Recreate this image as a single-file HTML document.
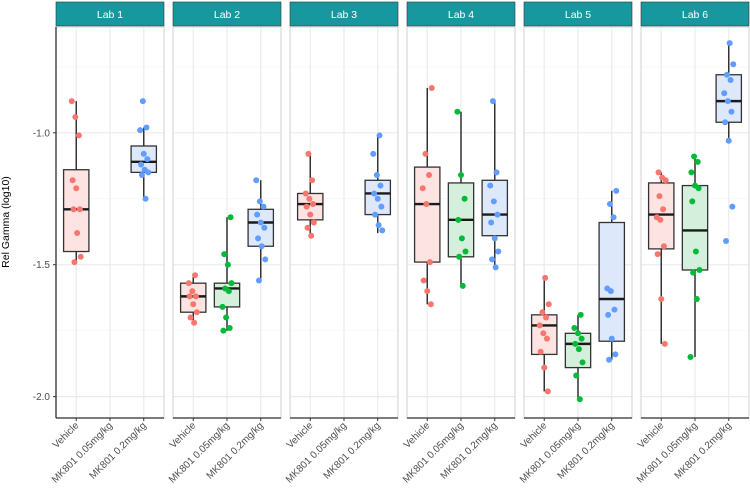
<!DOCTYPE html>
<html><head><meta charset="utf-8"><style>
html,body{margin:0;padding:0;background:#fff;}
svg{display:block;font-family:"Liberation Sans",Arial,sans-serif;}
</style></head><body>
<svg id="chart" width="750" height="503" viewBox="0 0 750 503"></svg>
<script>
const labs = ["Lab 1","Lab 2","Lab 3","Lab 4","Lab 5","Lab 6"];
const groups = ["Vehicle","MK801 0.05mg/kg","MK801 0.2mg/kg"];
const yTicks = [-1.0,-1.5,-2.0];
const yTickLabels = ["-1.0","-1.5","-2.0"];
// box stats per lab, per group: [lower, q1, median, q3, upper] (null = no data)
const boxStats = [
 [[-1.49,-1.45,-1.29,-1.14,-0.88], null, [-1.25,-1.15,-1.11,-1.05,-0.98]],
 [[-1.72,-1.68,-1.62,-1.57,-1.54], [-1.75,-1.66,-1.59,-1.57,-1.32], [-1.56,-1.43,-1.34,-1.29,-1.18]],
 [[-1.39,-1.33,-1.27,-1.23,-1.08], null, [-1.38,-1.31,-1.23,-1.18,-1.01]],
 [[-1.65,-1.49,-1.27,-1.13,-0.83], [-1.58,-1.47,-1.33,-1.19,-0.92], [-1.51,-1.39,-1.31,-1.18,-0.88]],
 [[-1.98,-1.84,-1.73,-1.69,-1.55], [-2.01,-1.89,-1.80,-1.76,-1.69], [-1.86,-1.79,-1.63,-1.34,-1.22]],
 [[-1.80,-1.44,-1.31,-1.19,-1.15], [-1.85,-1.52,-1.37,-1.20,-1.09], [-1.03,-0.96,-0.88,-0.78,-0.66]]
];
const points = [
 [[-0.88,-0.94,-1.01,-1.18,-1.21,-1.29,-1.29,-1.38,-1.47,-1.49], [], [-0.88,-0.98,-0.99,-1.08,-1.10,-1.12,-1.14,-1.15,-1.16,-1.25]],
 [[-1.54,-1.57,-1.60,-1.62,-1.62,-1.65,-1.68,-1.70,-1.72], [-1.32,-1.46,-1.50,-1.57,-1.59,-1.60,-1.66,-1.70,-1.74,-1.75], [-1.18,-1.26,-1.28,-1.31,-1.34,-1.36,-1.40,-1.43,-1.48,-1.56]],
 [[-1.08,-1.18,-1.23,-1.25,-1.27,-1.28,-1.31,-1.34,-1.36,-1.39], [], [-1.01,-1.08,-1.16,-1.20,-1.23,-1.25,-1.28,-1.31,-1.35,-1.37]],
 [[-0.83,-1.08,-1.16,-1.21,-1.27,-1.49,-1.56,-1.60,-1.65], [-0.92,-1.16,-1.25,-1.33,-1.40,-1.45,-1.47,-1.58], [-0.88,-1.15,-1.20,-1.26,-1.31,-1.34,-1.40,-1.45,-1.48,-1.51]],
 [[-1.55,-1.65,-1.68,-1.70,-1.73,-1.76,-1.78,-1.83,-1.89,-1.98], [-1.69,-1.74,-1.76,-1.78,-1.80,-1.82,-1.87,-1.92,-2.01], [-1.22,-1.27,-1.32,-1.59,-1.60,-1.67,-1.69,-1.78,-1.84,-1.86]],
 [[-1.15,-1.17,-1.18,-1.24,-1.29,-1.32,-1.33,-1.43,-1.46,-1.63,-1.80], [-1.09,-1.11,-1.15,-1.20,-1.21,-1.26,-1.45,-1.52,-1.53,-1.63,-1.85], [-0.66,-0.74,-0.78,-0.80,-0.85,-0.88,-0.92,-0.96,-1.03,-1.28,-1.41]]
];
const colors = ["#F8766D","#00BA38","#619CFF"];
const fills = ["#fde3e1","#d4f0dc","#dde8fb"];

const NS="http://www.w3.org/2000/svg";
const svg=document.getElementById('chart');
function mk(tag,attrs,parent){const e=document.createElementNS(NS,tag);for(const k in attrs)e.setAttribute(k,attrs[k]);(parent||svg).appendChild(e);return e;}
const plotTop=27, plotBot=418;
const yMin=-2.081, yMax=-0.599;
function yScale(v){return plotTop+(yMax-v)/(yMax-yMin)*(plotBot-plotTop);}
const panelX0=56, panelW=108, panelGap=9;
function panelLeft(i){return panelX0+i*(panelW+panelGap);}
const unit=panelW/3.2;
function xScale(p,g){return panelLeft(p)+(g+0.6)*unit;}

const yt=mk('text',{x:0,y:0,transform:'translate(9,222) rotate(-90)','text-anchor':'middle','font-size':'10.5',fill:'#000'});


yt.textContent='Rel Gamma (log10)';
yTicks.forEach((t,i)=>{
 const tx=mk('text',{x:50,y:yScale(t)+3.5,'text-anchor':'end','font-size':'10',fill:'#4d4d4d'});
 
 
 tx.textContent=yTickLabels[i];
 mk('line',{x1:53,x2:56,y1:yScale(t),y2:yScale(t),stroke:'#333','stroke-width':1});
});

labs.forEach((lab,p)=>{
 const L=panelLeft(p);
 const g=mk('g',{});
 
 
 const st=mk('rect',{x:L,y:2,width:panelW,height:24,fill:'#17989f',stroke:'#333','stroke-width':0.6},g);
 
 
 const stt=mk('text',{x:L+panelW/2,y:18,'text-anchor':'middle','font-size':'10.5',fill:'#fff'},g);
 
 
 stt.textContent=lab;
 [-0.75,-1.25,-1.75].forEach(v=>mk('line',{x1:L,x2:L+panelW,y1:yScale(v),y2:yScale(v),stroke:'#f5f5f5','stroke-width':0.7},g));
 yTicks.forEach(v=>mk('line',{x1:L,x2:L+panelW,y1:yScale(v),y2:yScale(v),stroke:'#ebebeb','stroke-width':1.2},g));
 groups.forEach((gr,k)=>mk('line',{x1:xScale(p,k),x2:xScale(p,k),y1:plotTop,y2:plotBot,stroke:'#ebebeb','stroke-width':1.2},g));
 mk('rect',{x:L,y:plotTop,width:panelW,height:plotBot-plotTop,fill:'none',stroke:'#d9d9d9','stroke-width':1.2},g);
 groups.forEach((gr,k)=>{
  const s=boxStats[p][k]; if(!s) return;
  const cx=xScale(p,k), hw=unit*0.375;
  const bg=mk('g',{},g);
  
  
  mk('line',{x1:cx,x2:cx,y1:yScale(s[0]),y2:yScale(s[1]),stroke:'#333','stroke-width':1.5},bg);
  mk('line',{x1:cx,x2:cx,y1:yScale(s[3]),y2:yScale(s[4]),stroke:'#333','stroke-width':1.5},bg);
  mk('rect',{x:cx-hw,y:yScale(s[3]),width:2*hw,height:yScale(s[1])-yScale(s[3]),fill:fills[k],stroke:'#333','stroke-width':1.3},bg);
  mk('line',{x1:cx-hw,x2:cx+hw,y1:yScale(s[2]),y2:yScale(s[2]),stroke:'#1a1a1a','stroke-width':2.4},bg);
 });
 groups.forEach((gr,k)=>{
  points[p][k].forEach((v,i)=>{
   const j=(((i*37+k*13+p*7)%11)-5)*0.9;
   const c=mk('circle',{cx:xScale(p,k)+j,cy:yScale(v),r:3,fill:colors[k]},g);
   
   
  });
 });
 mk('line',{x1:L,x2:L+panelW,y1:plotBot,y2:plotBot,stroke:'#333','stroke-width':1.3},g);
 if(p===0) mk('line',{x1:L,x2:L,y1:plotTop,y2:plotBot,stroke:'#333','stroke-width':1.3},g);
 groups.forEach((gr,k)=>{
  const x=xScale(p,k);
  mk('line',{x1:x,x2:x,y1:plotBot,y2:plotBot+3,stroke:'#333','stroke-width':1},g);
  const t=mk('text',{x:0,y:0,transform:`translate(${x+3},${plotBot+8}) rotate(-45)`,'text-anchor':'end','font-size':'10',fill:'#4d4d4d'},g);
  
  
  t.textContent=gr;
 });
});
</script>
</body></html>
